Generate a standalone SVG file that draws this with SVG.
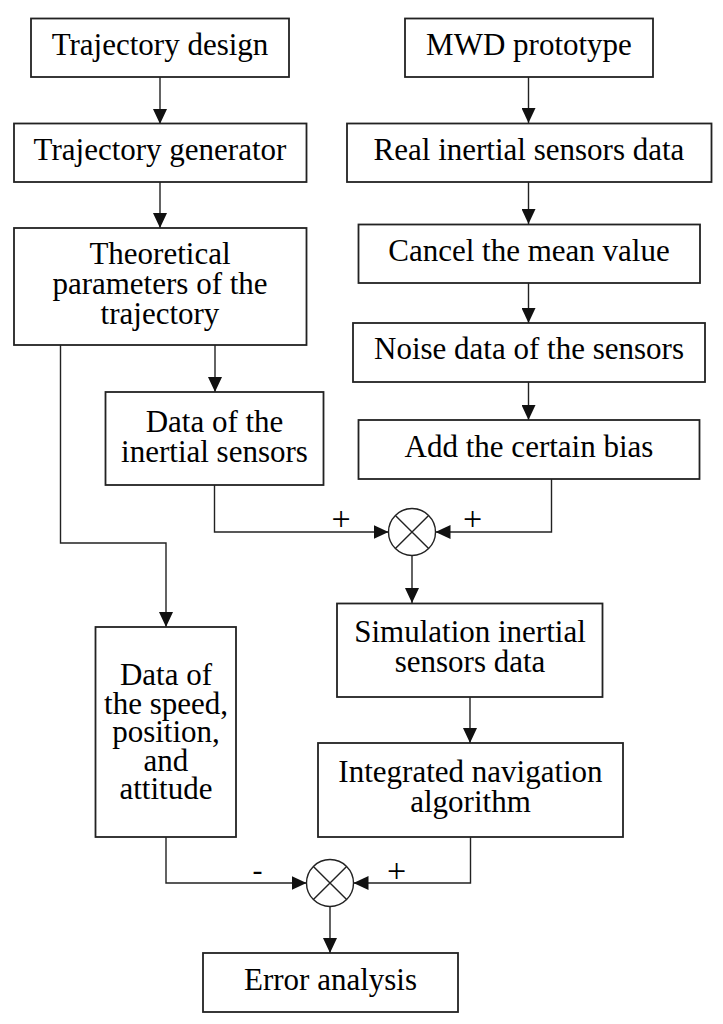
<svg xmlns="http://www.w3.org/2000/svg" width="723" height="1024" viewBox="0 0 723 1024">
<style>
.box{fill:#fff;stroke:#222;stroke-width:1.8}
.t{font-family:"Liberation Serif","Times New Roman",serif;font-size:31px;fill:#000;text-anchor:middle}
.s{font-family:"Liberation Serif","Times New Roman",serif;font-size:34px;fill:#000;text-anchor:middle}
.c{fill:none;stroke:#222;stroke-width:1.4}
.j{fill:#fff;stroke:#222;stroke-width:1.4}
</style>
<defs>
<marker id="ah" markerUnits="userSpaceOnUse" markerWidth="15" markerHeight="14" refX="15" refY="7" orient="auto">
<path d="M0,0 L15,7 L0,14 Z" fill="#111"/>
</marker>
</defs>
<rect width="723" height="1024" fill="#fff"/>
<g id="connectors">
<path class="c" d="M160,77 V124" marker-end="url(#ah)"/>
<path class="c" d="M160,182 V228" marker-end="url(#ah)"/>
<path class="c" d="M528.5,77 V123" marker-end="url(#ah)"/>
<path class="c" d="M528.5,182 V224" marker-end="url(#ah)"/>
<path class="c" d="M528.5,283 V323" marker-end="url(#ah)"/>
<path class="c" d="M528.5,382 V420" marker-end="url(#ah)"/>
<path class="c" d="M215,345 V392" marker-end="url(#ah)"/>
<path class="c" d="M60.5,345 V543 H166 V627" marker-end="url(#ah)"/>
<path class="c" d="M214.5,485 V532 H388.5" marker-end="url(#ah)"/>
<path class="c" d="M551.5,479 V532 H435.5" marker-end="url(#ah)"/>
<path class="c" d="M412,555.5 V603" marker-end="url(#ah)"/>
<path class="c" d="M470,697 V743" marker-end="url(#ah)"/>
<path class="c" d="M166,837 V883 H306.5" marker-end="url(#ah)"/>
<path class="c" d="M470.5,837 V883 H353.5" marker-end="url(#ah)"/>
<path class="c" d="M330,906.5 V953" marker-end="url(#ah)"/>
<text class="s" x="341" y="529.5">+</text>
<text class="s" x="472.5" y="529.5">+</text>
<text class="s" x="257.5" y="880" style="font-size:30px">-</text>
<text class="s" x="396.5" y="881.5">+</text>
</g>
<g id="sum1">
<circle class="j" cx="412" cy="532" r="23.5"/>
<path class="c" d="M395.4,515.4 L428.6,548.6 M428.6,515.4 L395.4,548.6"/>
</g>
<g id="sum2">
<circle class="j" cx="330" cy="883" r="23.5"/>
<path class="c" d="M313.4,866.4 L346.6,899.6 M346.6,866.4 L313.4,899.6"/>
</g>
<g id="trajectory-design">
<rect class="box" x="31" y="18.5" width="258" height="58.5"/>
<text class="t" x="160" y="55">Trajectory design</text>
</g>
<g id="mwd-prototype">
<rect class="box" x="405" y="18.5" width="248" height="58.5"/>
<text class="t" x="529" y="54.5">MWD prototype</text>
</g>
<g id="trajectory-generator">
<rect class="box" x="14" y="123.5" width="292.5" height="58.5"/>
<text class="t" x="160" y="160">Trajectory generator</text>
</g>
<g id="real-sensors">
<rect class="box" x="347" y="123.5" width="364.5" height="58.5"/>
<text class="t" x="529" y="159.5">Real inertial sensors data</text>
</g>
<g id="theoretical">
<rect class="box" x="14" y="228" width="292.5" height="117"/>
<text class="t" x="160" y="263.5">Theoretical</text>
<text class="t" x="160" y="293.5">parameters of the</text>
<text class="t" x="160" y="323.5">trajectory</text>
</g>
<g id="cancel-mean">
<rect class="box" x="358.5" y="224.5" width="341.5" height="58.5"/>
<text class="t" x="529" y="261">Cancel the mean value</text>
</g>
<g id="noise-data">
<rect class="box" x="353" y="323" width="352" height="59"/>
<text class="t" x="529" y="359">Noise data of the sensors</text>
</g>
<g id="data-inertial">
<rect class="box" x="105.5" y="392" width="218" height="93"/>
<text class="t" x="214.5" y="431.5">Data of the</text>
<text class="t" x="214.5" y="461.5">inertial sensors</text>
</g>
<g id="add-bias">
<rect class="box" x="358.5" y="420" width="341" height="59"/>
<text class="t" x="529" y="457">Add the certain bias</text>
</g>
<g id="simulation">
<rect class="box" x="337" y="603.5" width="265.5" height="93.5"/>
<text class="t" x="470" y="641.5">Simulation inertial</text>
<text class="t" x="470" y="671.5">sensors data</text>
</g>
<g id="speed-data">
<rect class="box" x="95.5" y="627" width="140.5" height="210"/>
<text class="t" x="166" y="685">Data of</text>
<text class="t" x="166" y="713.5">the speed,</text>
<text class="t" x="166" y="742">position,</text>
<text class="t" x="166" y="770.5">and</text>
<text class="t" x="166" y="799">attitude</text>
</g>
<g id="integrated-nav">
<rect class="box" x="318" y="743" width="305" height="94"/>
<text class="t" x="470.5" y="781.5">Integrated navigation</text>
<text class="t" x="470.5" y="811.5">algorithm</text>
</g>
<g id="error-analysis">
<rect class="box" x="203" y="953" width="255" height="59"/>
<text class="t" x="330.5" y="990">Error analysis</text>
</g>
</svg>
